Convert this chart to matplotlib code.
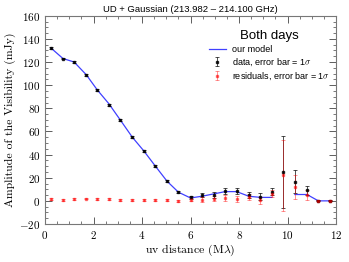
import numpy as np
import matplotlib
matplotlib.use("Agg")
import matplotlib.pyplot as plt

# ----------------------------------------------------------------------
# data
# ----------------------------------------------------------------------
uv = [0.25, 0.74, 1.2, 1.7, 2.15, 2.63, 3.1, 3.6, 4.08, 4.55, 5.03, 5.5,
      6.0, 6.47, 6.95, 7.43, 7.9, 8.4, 8.88, 9.35, 9.83, 10.3, 10.8, 11.27, 11.75]
data_amp = [132, 123, 120, 109, 96, 83, 70, 55, 43, 30, 17, 7.5,
            3, 5, 5, 8.5, 8.5, 5, 3.5, 8, 25, 16.5, 9, 0, 0]
data_err = [0.8, 0.8, 0.8, 0.8, 0.8, 0.8, 0.8, 0.8, 0.8, 0.8, 0.8, 0.8,
            1.2, 2, 2.5, 2.5, 2.5, 2.5, 3, 3, 31, 10, 4, 0.5, 0.5]
model_amp = [132, 123, 120, 109, 96, 84, 70, 55, 43, 30, 17, 7.5,
             2.5, 4, 6, 8, 8, 4, 3, 3, np.nan, 5.5, 5.5, 0, 0]
resid_amp = [1.5, 0.5, 1.5, 2, 1.5, 1.5, 0.5, 1, 0.5, 0.5, 1, 0,
             1, 1, 2, 2.5, 1.5, 3.5, 0.5, 6, 22, 12, 5, 0, 0]

plt.rcParams['font.family'] = 'serif'
plt.rcParams['font.serif'] = ['cmr10']
plt.rcParams['mathtext.fontset'] = 'cm'
plt.rcParams['axes.formatter.use_mathtext'] = True

fig = plt.figure(figsize=(3.49, 2.62), dpi=100)
ax = fig.add_axes([0.129, 0.145, 0.834, 0.795])

ax.plot(uv, model_amp, color='blue', lw=0.9, alpha=0.75, label='our model')
ax.errorbar(uv, data_amp, yerr=data_err, fmt='s', ms=1.6, color='black',
            ecolor='black', elinewidth=0.6, capsize=1.5, capthick=0.6,
            alpha=0.8, label=r'data, error bar = 1$\sigma$')
ax.errorbar(uv, resid_amp, yerr=data_err, fmt='s', ms=1.6, color='red',
            ecolor='red', elinewidth=0.6, capsize=1.5, capthick=0.6,
            alpha=0.5, label=r'residuals, error bar = 1$\sigma$')

ax.set_xlim(0, 12)
ax.set_ylim(-20, 160)
ax.set_xticks(np.arange(0, 13, 2))
ax.set_yticks(np.arange(-20, 161, 20))
ax.minorticks_on()
ax.tick_params(which='both', direction='in', top=True, right=True, labelsize=8, colors='#444444',
               labelcolor='black')
ax.tick_params(which='major', length=5, width=0.6)
ax.tick_params(which='minor', length=2.5, width=0.5)
for s in ax.spines.values():
    s.set_color('#777777')
    s.set_linewidth(0.8)

ax.set_xlabel(r'uv distance (M$\lambda$)', fontsize=8.5, labelpad=1)
ax.set_ylabel('Amplitude of the Visibility (mJy)', fontsize=8.5, labelpad=2)
ax.set_title(u'UD + Gaussian (213.982 \u2013 214.100 GHz)', fontsize=6.8,
             family='Liberation Sans', pad=3)

leg = ax.legend(loc='upper right', frameon=False, title='Both days',
                prop={'family': 'Liberation Sans', 'size': 6.5},
                handlelength=1.8, handletextpad=0.7, labelspacing=0.3,
                borderaxespad=0.3, bbox_to_anchor=(1.0, 0.96))
leg.get_title().set_fontsize(9.5)
leg.get_title().set_family('Liberation Sans')

fig.savefig('out.png', dpi=100)
